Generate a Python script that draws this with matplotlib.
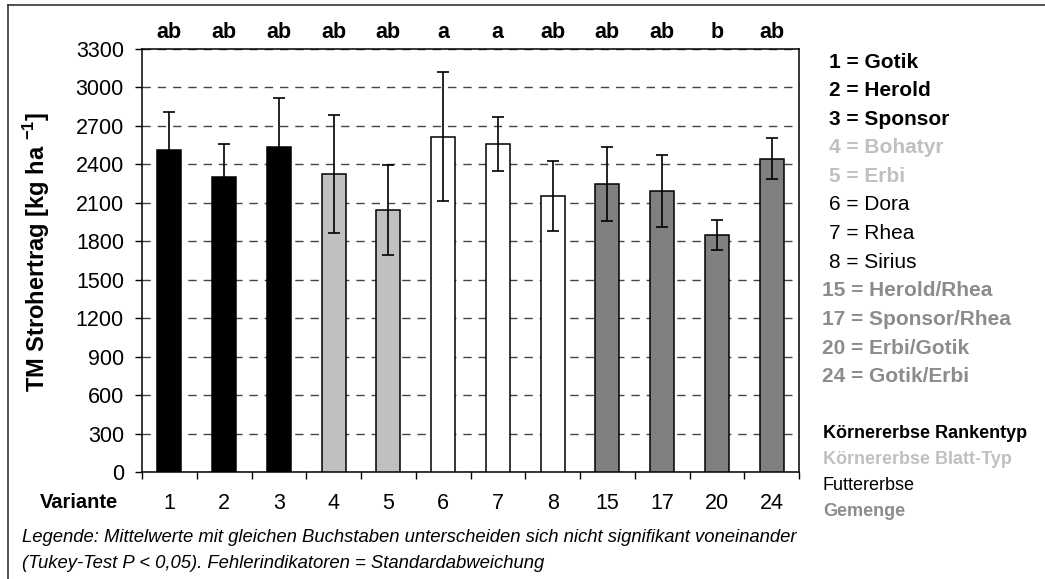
import matplotlib

matplotlib.use("Agg")
import matplotlib.pyplot as plt
import numpy as np
from matplotlib.lines import Line2D
from matplotlib.transforms import blended_transform_factory

plt.rcParams["font.family"] = ["Liberation Sans", "DejaVu Sans"]
plt.rcParams["mathtext.fontset"] = "custom"
plt.rcParams["mathtext.rm"] = "Liberation Sans:bold"
plt.rcParams["mathtext.bf"] = "Liberation Sans:bold"

# data
varianten = ["1", "2", "3", "4", "5", "6", "7", "8", "15", "17", "20", "24"]
mittelwerte = [2510, 2299, 2538, 2325, 2046, 2616, 2559, 2153, 2247, 2192, 1849, 2442]
stdabw = [300, 262, 377, 460, 350, 505, 210, 270, 290, 283, 117, 160]
buchstaben = ["ab", "ab", "ab", "ab", "ab", "a", "a", "ab", "ab", "ab", "b", "ab"]
gruppe = ["rank", "rank", "rank", "blatt", "blatt", "futter", "futter", "futter",
          "gemenge", "gemenge", "gemenge", "gemenge"]
sorten = ["Gotik", "Herold", "Sponsor", "Bohatyr", "Erbi", "Dora", "Rhea", "Sirius",
          "Herold/Rhea", "Sponsor/Rhea", "Erbi/Gotik", "Gotik/Erbi"]
gruppen_namen = {"rank": "Körnererbse Rankentyp", "blatt": "Körnererbse Blatt-Typ",
                 "futter": "Futtererbse", "gemenge": "Gemenge"}

farben = {"rank": "#000000", "blatt": "#C0C0C0", "futter": "#FFFFFF", "gemenge": "#808080"}
text_farben = {"rank": "#000000", "blatt": "#C0C0C0", "futter": "#000000", "gemenge": "#8C8C8C"}
text_gewicht = {"rank": "bold", "blatt": "bold", "futter": "normal", "gemenge": "bold"}

W, H = 1045, 579
fig = plt.figure(figsize=(W / 100, H / 100), dpi=100)
ax = fig.add_axes([142 / W, 1 - 472 / H, (799 - 142) / W, (472 - 49) / H])

x = np.arange(len(varianten))
ax.bar(x, mittelwerte, width=0.44, color=[farben[g] for g in gruppe],
       edgecolor="black", linewidth=1.1, zorder=3)
ax.errorbar(x, mittelwerte, yerr=stdabw, fmt="none", ecolor="black",
            elinewidth=1.2, capsize=4, capthick=1.2, zorder=4)

ax.set_xlim(-0.5, len(varianten) - 0.5)
ax.set_ylim(0, 3300)
ax.set_yticks(np.arange(0, 3301, 300))
ax.yaxis.grid(True, linestyle=(0, (6, 5)), color="#444444", linewidth=1.0, zorder=0)
ax.set_axisbelow(True)

# x ticks between categories, labels at the centres
ax.set_xticks(np.arange(-0.5, len(varianten)), minor=False)
ax.set_xticklabels([])
ax.set_xticks(x, minor=True)
ax.set_xticklabels(varianten, minor=True, fontsize=15.5)
ax.tick_params(axis="x", which="minor", length=0, pad=15)
ax.tick_params(axis="x", which="major", length=5, width=1, direction="out")
ax.tick_params(axis="y", length=5, width=1, direction="out", pad=8, labelsize=15.5)
for s in ax.spines.values():
    s.set_linewidth(1.1)

fig.text(37 / W, 1 - 252 / H, "TM Strohertrag [kg ha $^{-1}$]", rotation=90,
         ha="center", va="center", fontsize=17, fontweight="bold")

# significance letters above the bars
trans = blended_transform_factory(ax.transData, fig.transFigure)
for xi, b in zip(x, buchstaben):
    fig.text(xi, 1 - 32 / H, b, transform=trans, ha="center", va="center",
             fontsize=15.5, fontweight="bold")

fig.text(79 / W, 1 - 503 / H, "Variante", ha="center", va="center",
         fontsize=14.5, fontweight="bold")

fig.text(22 / W, 1 - 537 / H,
         "Legende: Mittelwerte mit gleichen Buchstaben unterscheiden sich nicht signifikant voneinander",
         ha="left", va="center", fontsize=13.3, style="italic")
fig.text(22 / W, 1 - 563 / H,
         "(Tukey-Test P < 0,05). Fehlerindikatoren = Standardabweichung",
         ha="left", va="center", fontsize=13.3, style="italic")

# legend of the variants
for i, (v, s, g) in enumerate(zip(varianten, sorten, gruppe)):
    xpos = 829 if len(v) == 1 else 822
    fig.text(xpos / W, 1 - (62 + 28.6 * i) / H, f"{v} = {s}", ha="left", va="center",
             fontsize=15, color=text_farben[g], fontweight=text_gewicht[g])

for i, g in enumerate(["rank", "blatt", "futter", "gemenge"]):
    fig.text(823 / W, 1 - (434 + 26 * i) / H, gruppen_namen[g], ha="left", va="center",
             fontsize=13, color=text_farben[g], fontweight=text_gewicht[g])

# outer frame (top and left only)
fig.add_artist(Line2D([8 / W, 1], [1 - 5 / H, 1 - 5 / H], color="#333333", linewidth=1.2))
fig.add_artist(Line2D([8 / W, 8 / W], [0, 1 - 5 / H], color="#333333", linewidth=1.2))

fig.savefig("out.png", dpi=100)
